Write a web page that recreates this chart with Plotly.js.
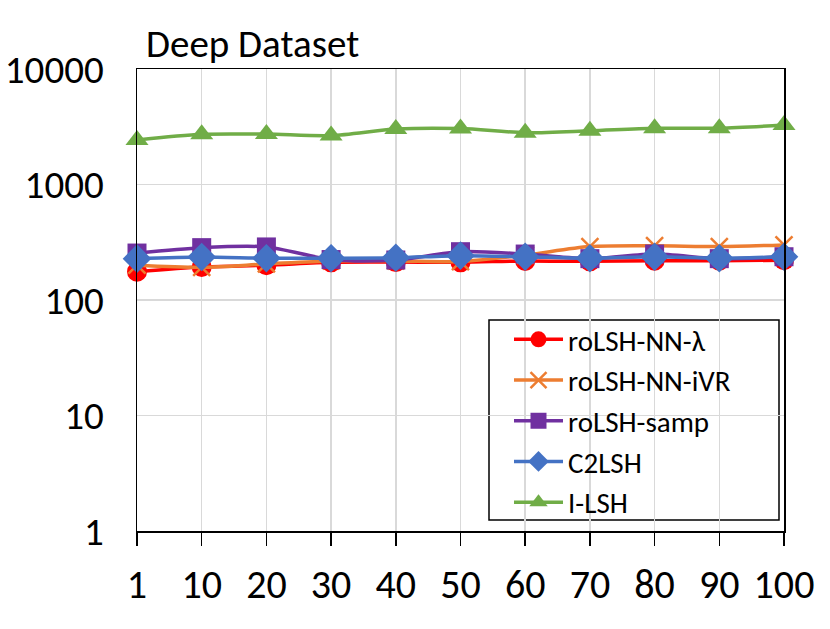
<!DOCTYPE html>
<html>
<head>
<meta charset="utf-8">
<script src="https://cdn.plot.ly/plotly-3.0.1.min.js"></script>
<style>html,body{margin:0;padding:0;background:#fff;}#chart{width:830px;height:629px;}</style>
</head>
<body>
<div id="chart"></div>
<script>
var categories = ["1","10","20","30","40","50","60","70","80","90","100"];
var seriesNames = ["roLSH-NN-λ","roLSH-NN-iVR","roLSH-samp","C2LSH","I-LSH"];
var roLSH_NN_lambda = [176, 193, 200, 212, 213, 212, 218, 216, 219, 219, 221];
var roLSH_NN_iVR   = [200, 192, 205, 218, 218, 215, 245, 290, 295, 290, 300];
var roLSH_samp     = [255, 284, 288, 224, 222, 262, 250, 228, 250, 228, 237];
var C2LSH          = [228, 236, 230, 230, 232, 242, 237, 230, 237, 230, 237];
var I_LSH          = [2430, 2720, 2730, 2650, 3020, 3050, 2810, 2920, 3070, 3070, 3270];
var yTickVals = [1, 10, 100, 1000, 10000];
var yTickText = ["1","10","100","1000","10000"];

var FONT = "Carlito, Calibri, Lato, 'Open Sans', sans-serif";
var styles = [
  {color:"#FF0000", symbol:"circle", size:20},
  {color:"#ED7D31", symbol:"x-thin-open", size:17},
  {color:"#7030A0", symbol:"square", size:19},
  {color:"#4472C4", symbol:"diamond", size:22},
  {color:"#70AD47", symbol:"triangle-up", size:20}
];
var values = [roLSH_NN_lambda, roLSH_NN_iVR, roLSH_samp, C2LSH, I_LSH];
var data = values.map(function(v, i){
  var s = styles[i];
  return {
    x: categories, y: v, name: seriesNames[i], type: "scatter", mode: "lines+markers",
    legendgroup: "g"+i,
    line: {color: s.color, width: 3.5, shape: "spline", smoothing: 0.8},
    marker: {color: s.color, symbol: s.symbol, size: s.size,
             line: {color: s.color, width: (s.symbol === "x-thin-open" ? 2.5 : 0)}},
    cliponaxis: false
  };
});

// plot-area pixel helpers for the legend frame (plot area: x 137..784, y 69..531)
function px(x){ return (x - 137) / 647; }
function py(y){ return (531 - y) / 462; }

var layout = {
  width: 830, height: 629,
  margin: {l:137, r:46, t:69, b:98},
  paper_bgcolor: "#fff", plot_bgcolor: "#fff",
  font: {family: FONT, color: "#000"},
  title: {text: "Deep Dataset", font: {family: FONT, size: 39, color:"#000"},
          xref: "container", yref: "container", x: 146/830, xanchor: "left",
          y: 1 - 43/629, yanchor: "middle"},
  showlegend: true,
  legend: {x: px(509), y: py(314), xanchor: "left", yanchor: "top",
           bgcolor: "rgba(0,0,0,0)", borderwidth: 0,
           font: {family: FONT, size: 29, color: "#000"},
           tracegroupgap: 0, itemwidth: 49},
  shapes: [{type: "rect", xref: "paper", yref: "paper", layer: "between",
            x0: px(489), x1: px(779), y0: py(520), y1: py(320),
            fillcolor: "#fff", line: {color: "#000", width: 1.5}}],
  xaxis: {type: "category", range: [0, 10], showgrid: true, gridcolor: "#d9d9d9", gridwidth: 1.5,
          showline: true, mirror: true, linecolor: "#000", linewidth: 1.5,
          ticks: "outside", ticklen: 13, tickwidth: 1.5, tickcolor: "#000",
          tickfont: {family: FONT, size: 40, color: "#000"}, ticklabelstandoff: 4,
          zeroline: false, fixedrange: true},
  yaxis: {type: "log", range: [0, 4], tickvals: yTickVals, ticktext: yTickText,
          showgrid: true, gridcolor: "#d9d9d9", gridwidth: 1.5,
          showline: true, mirror: true, linecolor: "#000", linewidth: 1.5,
          ticks: "", tickfont: {family: FONT, size: 39, color: "#000"}, ticklabelstandoff: 24,
          zeroline: false, fixedrange: true}
};
Plotly.newPlot("chart", data, layout, {displayModeBar: false, staticPlot: true});
</script>
</body>
</html>
